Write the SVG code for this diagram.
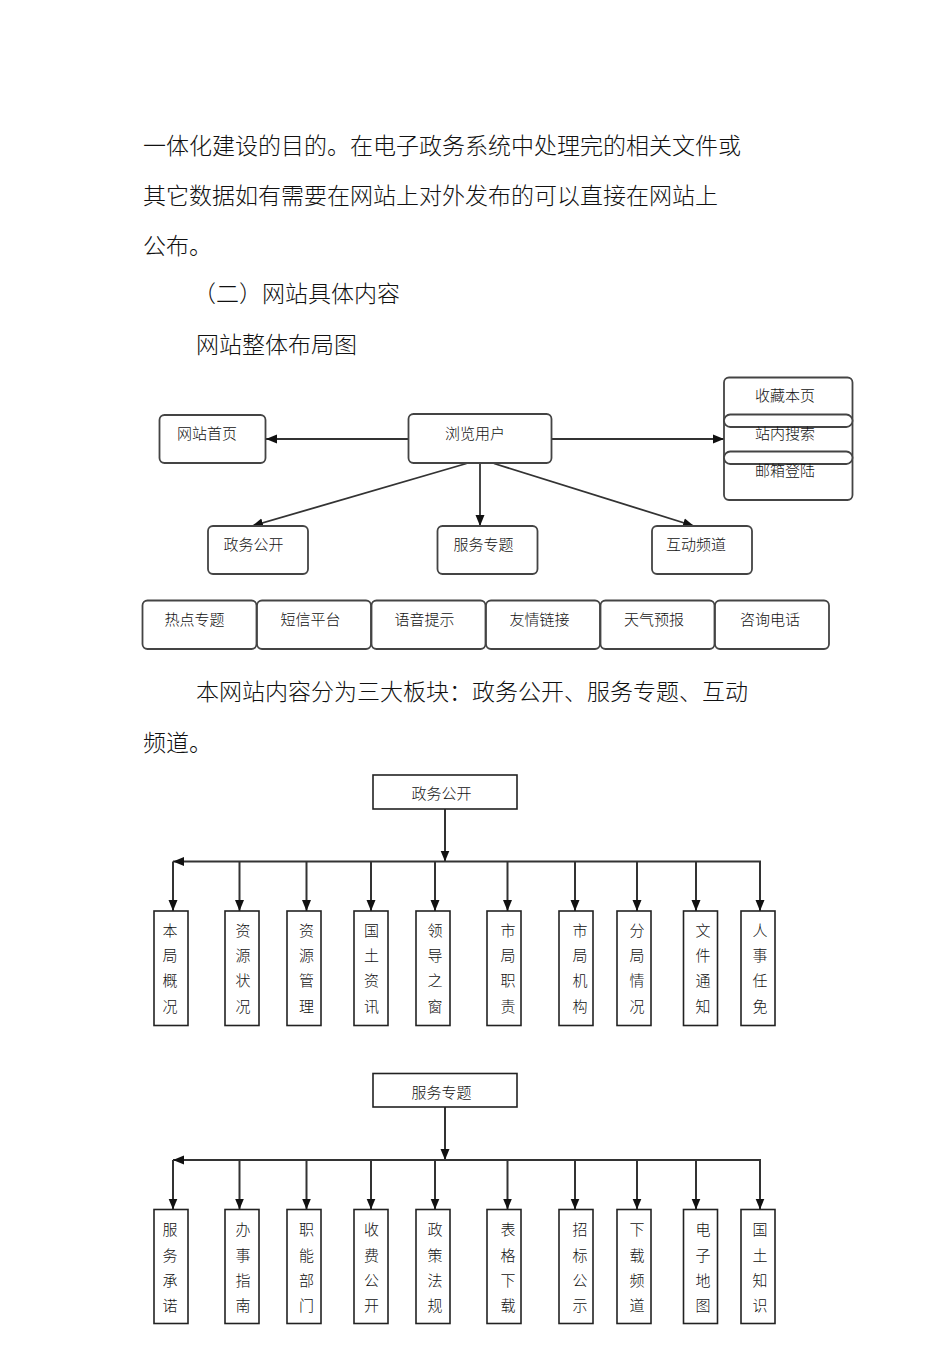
<svg xmlns="http://www.w3.org/2000/svg" width="950" height="1345" viewBox="0 0 950 1345">
<style>
.body{font-family:"Noto Sans CJK SC","Noto Sans",sans-serif;font-size:23px;font-weight:300;fill:#111}
.t{font-family:"Noto Sans CJK SC","Noto Sans",sans-serif;font-size:15px;font-weight:300;fill:#111;text-anchor:middle}
.rb{fill:#fff;stroke:#444;stroke-width:1.8}
.sb{fill:#fff;stroke:#222;stroke-width:1.6}
.ln{fill:none;stroke:#333;stroke-width:1.8}
.ln2{fill:none;stroke:#333;stroke-width:2}
</style>
<defs>
<marker id="ah" markerUnits="userSpaceOnUse" markerWidth="12" markerHeight="10" refX="11" refY="5" orient="auto">
<path d="M0,0.5 L11,5 L0,9.5 Z" fill="#111"/>
</marker>
</defs>
<rect width="950" height="1345" fill="#fff"/>

<g id="paragraphs">
<text class="body" x="143" y="154">一体化建设的目的。在电子政务系统中处理完的相关文件或</text>
<text class="body" x="143" y="204">其它数据如有需要在网站上对外发布的可以直接在网站上</text>
<text class="body" x="143" y="254">公布。</text>
<text class="body" x="193" y="302">（二）网站具体内容</text>
<text class="body" x="196" y="353">网站整体布局图</text>
<text class="body" x="196" y="700">本网站内容分为三大板块：政务公开、服务专题、互动</text>
<text class="body" x="143" y="751">频道。</text>
</g>

<g id="connectors">
<line class="ln" x1="408" y1="439" x2="266" y2="439" marker-end="url(#ah)"/>
<line class="ln" x1="552" y1="439" x2="724" y2="439" marker-end="url(#ah)"/>
<line class="ln" x1="466.5" y1="463.5" x2="252" y2="526" marker-end="url(#ah)"/>
<line class="ln" x1="480" y1="463" x2="480" y2="526" marker-end="url(#ah)"/>
<line class="ln" x1="494" y1="463.5" x2="694" y2="526" marker-end="url(#ah)"/>

<line class="ln2" x1="445" y1="809" x2="445" y2="861.5" marker-end="url(#ah)"/>
<line class="ln2" x1="761" y1="861.5" x2="173" y2="861.5" marker-end="url(#ah)"/>
<line class="ln2" x1="173" y1="861.5" x2="173" y2="911" marker-end="url(#ah)"/>
<line class="ln2" x1="239.5" y1="861.5" x2="239.5" y2="911" marker-end="url(#ah)"/>
<line class="ln2" x1="306.5" y1="861.5" x2="306.5" y2="911" marker-end="url(#ah)"/>
<line class="ln2" x1="371" y1="861.5" x2="371" y2="911" marker-end="url(#ah)"/>
<line class="ln2" x1="435" y1="861.5" x2="435" y2="911" marker-end="url(#ah)"/>
<line class="ln2" x1="507.5" y1="861.5" x2="507.5" y2="911" marker-end="url(#ah)"/>
<line class="ln2" x1="575" y1="861.5" x2="575" y2="911" marker-end="url(#ah)"/>
<line class="ln2" x1="637" y1="861.5" x2="637" y2="911" marker-end="url(#ah)"/>
<line class="ln2" x1="696" y1="861.5" x2="696" y2="911" marker-end="url(#ah)"/>
<line class="ln2" x1="760" y1="861.5" x2="760" y2="911" marker-end="url(#ah)"/>

<line class="ln2" x1="445" y1="1107" x2="445" y2="1160" marker-end="url(#ah)"/>
<line class="ln2" x1="761" y1="1160" x2="173" y2="1160" marker-end="url(#ah)"/>
<line class="ln2" x1="173" y1="1160" x2="173" y2="1209.5" marker-end="url(#ah)"/>
<line class="ln2" x1="239.5" y1="1160" x2="239.5" y2="1209.5" marker-end="url(#ah)"/>
<line class="ln2" x1="306.5" y1="1160" x2="306.5" y2="1209.5" marker-end="url(#ah)"/>
<line class="ln2" x1="371" y1="1160" x2="371" y2="1209.5" marker-end="url(#ah)"/>
<line class="ln2" x1="435" y1="1160" x2="435" y2="1209.5" marker-end="url(#ah)"/>
<line class="ln2" x1="507.5" y1="1160" x2="507.5" y2="1209.5" marker-end="url(#ah)"/>
<line class="ln2" x1="575" y1="1160" x2="575" y2="1209.5" marker-end="url(#ah)"/>
<line class="ln2" x1="637" y1="1160" x2="637" y2="1209.5" marker-end="url(#ah)"/>
<line class="ln2" x1="696" y1="1160" x2="696" y2="1209.5" marker-end="url(#ah)"/>
<line class="ln2" x1="760" y1="1160" x2="760" y2="1209.5" marker-end="url(#ah)"/>
</g>

<g id="n-home"><rect class="rb" x="159.5" y="415" width="106" height="48" rx="5"/><text class="t" x="207" y="438.7">网站首页</text></g>
<g id="n-user"><rect class="rb" x="408.5" y="414" width="143" height="49" rx="5"/><text class="t" x="475" y="438.7">浏览用户</text></g>
<g id="n-tools">
<rect class="rb" x="724" y="377.5" width="128.5" height="122.5" rx="5"/>
<rect class="rb" x="724" y="414.5" width="128.5" height="12.5" rx="6.25"/>
<rect class="rb" x="724" y="451.5" width="128.5" height="12.5" rx="6.25"/>
<text class="t" x="785" y="400.7">收藏本页</text>
<text class="t" x="785" y="438.7">站内搜索</text>
<text class="t" x="785" y="475.7">邮箱登陆</text>
</g>
<g id="n-zwgk"><rect class="rb" x="208" y="526" width="100" height="48" rx="5"/><text class="t" x="253.5" y="550">政务公开</text></g>
<g id="n-fwzt"><rect class="rb" x="437.5" y="526" width="100" height="48" rx="5"/><text class="t" x="483.5" y="550">服务专题</text></g>
<g id="n-hdpd"><rect class="rb" x="652" y="526" width="100" height="48" rx="5"/><text class="t" x="696" y="550">互动频道</text></g>

<g id="n-rdzt"><rect class="rb" x="142.5" y="600.5" width="114" height="48.5" rx="5"/><text class="t" x="194.5" y="625">热点专题</text></g>
<g id="n-dxpt"><rect class="rb" x="257" y="600.5" width="114" height="48.5" rx="5"/><text class="t" x="310.5" y="625">短信平台</text></g>
<g id="n-yyts"><rect class="rb" x="371.5" y="600.5" width="114" height="48.5" rx="5"/><text class="t" x="424.5" y="625">语音提示</text></g>
<g id="n-yqlj"><rect class="rb" x="486" y="600.5" width="114" height="48.5" rx="5"/><text class="t" x="539.5" y="625">友情链接</text></g>
<g id="n-tqyb"><rect class="rb" x="600.5" y="600.5" width="114" height="48.5" rx="5"/><text class="t" x="654" y="625">天气预报</text></g>
<g id="n-zxdh"><rect class="rb" x="715" y="600.5" width="114" height="48.5" rx="5"/><text class="t" x="770" y="625">咨询电话</text></g>

<g id="d2-title"><rect class="sb" x="373" y="775" width="144" height="34"/><text class="t" x="441.5" y="799">政务公开</text></g>
<g id="d2-1"><rect class="sb" x="154" y="911" width="34" height="114.5"/><text class="t" y="935.7"><tspan x="170">本</tspan><tspan x="170" dy="25.5">局</tspan><tspan x="170" dy="25">概</tspan><tspan x="170" dy="25.5">况</tspan></text></g>
<g id="d2-2"><rect class="sb" x="225" y="911" width="34" height="114.5"/><text class="t" y="935.7"><tspan x="243">资</tspan><tspan x="243" dy="25.5">源</tspan><tspan x="243" dy="25">状</tspan><tspan x="243" dy="25.5">况</tspan></text></g>
<g id="d2-3"><rect class="sb" x="287" y="911" width="34" height="114.5"/><text class="t" y="935.7"><tspan x="306.5">资</tspan><tspan x="306.5" dy="25.5">源</tspan><tspan x="306.5" dy="25">管</tspan><tspan x="306.5" dy="25.5">理</tspan></text></g>
<g id="d2-4"><rect class="sb" x="354" y="911" width="34" height="114.5"/><text class="t" y="935.7"><tspan x="371.5">国</tspan><tspan x="371.5" dy="25.5">土</tspan><tspan x="371.5" dy="25">资</tspan><tspan x="371.5" dy="25.5">讯</tspan></text></g>
<g id="d2-5"><rect class="sb" x="416" y="911" width="34" height="114.5"/><text class="t" y="935.7"><tspan x="435">领</tspan><tspan x="435" dy="25.5">导</tspan><tspan x="435" dy="25">之</tspan><tspan x="435" dy="25.5">窗</tspan></text></g>
<g id="d2-6"><rect class="sb" x="487" y="911" width="34" height="114.5"/><text class="t" y="935.7"><tspan x="508">市</tspan><tspan x="508" dy="25.5">局</tspan><tspan x="508" dy="25">职</tspan><tspan x="508" dy="25.5">责</tspan></text></g>
<g id="d2-7"><rect class="sb" x="559" y="911" width="34" height="114.5"/><text class="t" y="935.7"><tspan x="580">市</tspan><tspan x="580" dy="25.5">局</tspan><tspan x="580" dy="25">机</tspan><tspan x="580" dy="25.5">构</tspan></text></g>
<g id="d2-8"><rect class="sb" x="617" y="911" width="34" height="114.5"/><text class="t" y="935.7"><tspan x="637">分</tspan><tspan x="637" dy="25.5">局</tspan><tspan x="637" dy="25">情</tspan><tspan x="637" dy="25.5">况</tspan></text></g>
<g id="d2-9"><rect class="sb" x="683.5" y="911" width="34" height="114.5"/><text class="t" y="935.7"><tspan x="703">文</tspan><tspan x="703" dy="25.5">件</tspan><tspan x="703" dy="25">通</tspan><tspan x="703" dy="25.5">知</tspan></text></g>
<g id="d2-10"><rect class="sb" x="741" y="911" width="34" height="114.5"/><text class="t" y="935.7"><tspan x="760">人</tspan><tspan x="760" dy="25.5">事</tspan><tspan x="760" dy="25">任</tspan><tspan x="760" dy="25.5">免</tspan></text></g>

<g id="d3-title"><rect class="sb" x="373" y="1073.5" width="144" height="33.5"/><text class="t" x="441.5" y="1097.5">服务专题</text></g>
<g id="d3-1"><rect class="sb" x="154" y="1209.5" width="34" height="114"/><text class="t" y="1234.7"><tspan x="170">服</tspan><tspan x="170" dy="26">务</tspan><tspan x="170" dy="25">承</tspan><tspan x="170" dy="25">诺</tspan></text></g>
<g id="d3-2"><rect class="sb" x="225" y="1209.5" width="34" height="114"/><text class="t" y="1234.7"><tspan x="243">办</tspan><tspan x="243" dy="26">事</tspan><tspan x="243" dy="25">指</tspan><tspan x="243" dy="25">南</tspan></text></g>
<g id="d3-3"><rect class="sb" x="287" y="1209.5" width="34" height="114"/><text class="t" y="1234.7"><tspan x="306.5">职</tspan><tspan x="306.5" dy="26">能</tspan><tspan x="306.5" dy="25">部</tspan><tspan x="306.5" dy="25">门</tspan></text></g>
<g id="d3-4"><rect class="sb" x="354" y="1209.5" width="34" height="114"/><text class="t" y="1234.7"><tspan x="371.5">收</tspan><tspan x="371.5" dy="26">费</tspan><tspan x="371.5" dy="25">公</tspan><tspan x="371.5" dy="25">开</tspan></text></g>
<g id="d3-5"><rect class="sb" x="416" y="1209.5" width="34" height="114"/><text class="t" y="1234.7"><tspan x="435">政</tspan><tspan x="435" dy="26">策</tspan><tspan x="435" dy="25">法</tspan><tspan x="435" dy="25">规</tspan></text></g>
<g id="d3-6"><rect class="sb" x="487" y="1209.5" width="34" height="114"/><text class="t" y="1234.7"><tspan x="508">表</tspan><tspan x="508" dy="26">格</tspan><tspan x="508" dy="25">下</tspan><tspan x="508" dy="25">载</tspan></text></g>
<g id="d3-7"><rect class="sb" x="559" y="1209.5" width="34" height="114"/><text class="t" y="1234.7"><tspan x="580">招</tspan><tspan x="580" dy="26">标</tspan><tspan x="580" dy="25">公</tspan><tspan x="580" dy="25">示</tspan></text></g>
<g id="d3-8"><rect class="sb" x="617" y="1209.5" width="34" height="114"/><text class="t" y="1234.7"><tspan x="637">下</tspan><tspan x="637" dy="26">载</tspan><tspan x="637" dy="25">频</tspan><tspan x="637" dy="25">道</tspan></text></g>
<g id="d3-9"><rect class="sb" x="683.5" y="1209.5" width="34" height="114"/><text class="t" y="1234.7"><tspan x="703">电</tspan><tspan x="703" dy="26">子</tspan><tspan x="703" dy="25">地</tspan><tspan x="703" dy="25">图</tspan></text></g>
<g id="d3-10"><rect class="sb" x="741" y="1209.5" width="34" height="114"/><text class="t" y="1234.7"><tspan x="760">国</tspan><tspan x="760" dy="26">土</tspan><tspan x="760" dy="25">知</tspan><tspan x="760" dy="25">识</tspan></text></g>
</svg>
